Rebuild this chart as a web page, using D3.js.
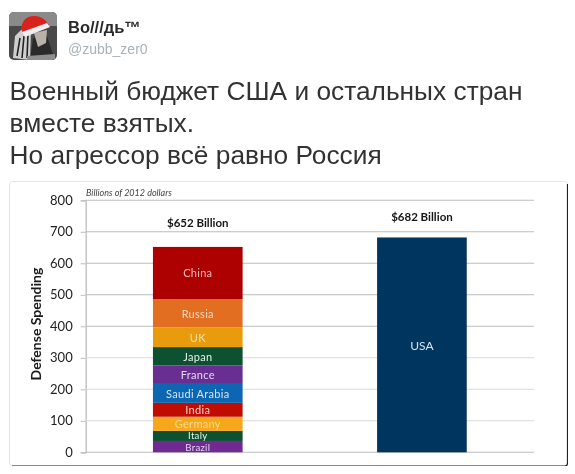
<!DOCTYPE html>
<html><head><meta charset="utf-8">
<script src="https://cdn.jsdelivr.net/npm/d3@7"></script>
<style>html,body{margin:0;padding:0;background:#fff}svg{display:block}</style></head>
<body><div id="c"></div>
<script>
const countries = ["Brazil","Italy","Germany","India","Saudi Arabia","France","Japan","UK","Russia","China"];
const spending = [36,32,45,44,60,59,58,63,89,166];
const colors = ["#6f2c91","#0b5130","#f6a81c","#c00a02","#0b66b2","#672d91","#0b5130","#e89c10","#e26e22","#ad0000"];
const textColors = ["#e3d3ef","#e6f2ea","#f6d98f","#f6cfcf","#d5e6f6","#e6d8f0","#e6f2ea","#f7dfb0","#f8d9c0","#f5b9b9"];
const barNames = ["Others","USA"];
const totals = ["$652 Billion","$682 Billion"];
const usaValue = [682];
const yTicks = [0,100,200,300,400,500,600,700,800];
const tweetLines = ["Военный бюджет США и остальных стран","вместе взятых.","Но агрессор всё равно Россия"];

const svg = d3.select("#c").append("svg").attr("width",575).attr("height",474);
const chartFont = "Lato, 'Open Sans', sans-serif";
const tw = "'Liberation Sans', Arial, sans-serif";

const defs = svg.append("defs");
defs.append("filter").attr("id","soft").attr("x",0).attr("y",0).attr("width","100%").attr("height","100%")
  .append("feGaussianBlur").attr("stdDeviation",0.35);
const page = svg.append("g").attr("filter","url(#soft)");

// header
defs.append("clipPath").attr("id","av").append("rect").attr("x",9).attr("y",12).attr("width",48).attr("height",48).attr("rx",5);
const av = page.append("g").attr("clip-path","url(#av)");
av.append("rect").attr("x",9).attr("y",12).attr("width",48).attr("height",48).attr("fill","#4a4a4a");
av.append("rect").attr("x",9).attr("y",12).attr("width",48).attr("height",14).attr("fill","#8a8a8a");
av.append("path").attr("d","M30 60 L33 38 L47 36 L55 60Z").attr("fill","#2b2b2b");
av.append("path").attr("d","M13 58 L15 36 L24 27 L31 30 L30 60Z").attr("fill","#cfcfcf");
av.append("path").attr("d","M17 56 L20 38 M22 58 L24 36 M27 58 L28 34").attr("stroke","#222").attr("stroke-width",1.6).attr("fill","none");
av.append("path").attr("d","M34 33 L47 30 L46 43 L38 47Z").attr("fill","#b9b2a8");
av.append("path").attr("d","M21 29 Q23 15 36 16 Q44 17 49 25 L23 33Z").attr("fill","#d9201f");
av.append("path").attr("d","M22 32 L47 23 L50 27 L25 37Z").attr("fill","#eeeeee");
av.append("path").attr("d","M27 56 L55 54 L55 60 L27 60Z").attr("fill","#8f8f8f");

page.append("text").attr("x",68).attr("y",33.3).attr("font-family",tw).attr("font-weight",700).attr("font-size",16.5).attr("fill","#2a2a2a").text("Во///дь™");
page.append("text").attr("x",68).attr("y",54.3).attr("font-family",tw).attr("font-size",14).attr("fill","#a9b2b9").text("@zubb_zer0");
page.append("g").selectAll("text").data(tweetLines).join("text")
  .attr("x",9.5).attr("y",(d,i)=>100.3+i*32)
  .attr("font-family",tw).attr("font-size",26.3).attr("fill","#333").text(d=>d);

// card
page.append("rect").attr("x",9.5).attr("y",181.5).attr("width",558).attr("height",284.5).attr("rx",3).attr("fill","#fff").attr("stroke","#e4e4e4");
page.append("path").attr("d","M12 466 L565 466 Q567.5 466 567.5 463 L567.5 184").attr("fill","none").attr("stroke","#222").attr("stroke-width",1.2);

// scales
const y = d3.scaleLinear().domain([0,800]).range([452.3,200.3]);
const x = d3.scaleBand().domain(barNames).range([85.7,534]).paddingInner(0.6).paddingOuter(0.3);

// axis and grid
const yAxis = d3.axisLeft(y).tickValues(yTicks).tickSize(5).tickFormat(d3.format("d"));
const gy = page.append("g").attr("transform","translate(85.7,0)").call(yAxis);
gy.select(".domain").attr("stroke","#bdbdbd").attr("stroke-width",1.3);
gy.selectAll(".tick line").attr("stroke","#bdbdbd").attr("x1",0).attr("x2",-5);
gy.selectAll(".tick text").attr("x",-13).attr("font-family",chartFont).attr("font-size",13).attr("fill","#222");
page.append("g").selectAll("line").data(yTicks).join("line")
  .attr("x1",85.7).attr("x2",534).attr("y1",d=>y(d)).attr("y2",d=>y(d))
  .attr("stroke",d=>d>=400||d===0?"#bcbcbc":"#d9d9d9").attr("stroke-width",1.1);

// stacked bar
const rows = countries.map((c,i)=>({c,v:spending[i],col:colors[i],tc:textColors[i]}));
let acc=0; rows.forEach(r=>{r.y0=acc;acc+=r.v;r.y1=acc;});
const bx = x("Others");
page.append("g").selectAll("rect").data(rows).join("rect")
  .attr("x",bx).attr("width",x.bandwidth()).attr("y",d=>y(d.y1)).attr("height",d=>y(d.y0)-y(d.y1)).attr("fill",d=>d.col);
page.append("g").selectAll("text").data(rows).join("text")
  .attr("x",bx+x.bandwidth()/2).attr("y",d=>(y(d.y0)+y(d.y1))/2+(d.v<40?3.3:4.4)+(d.c==="Brazil"?0.6:0))
  .attr("text-anchor","middle").attr("font-family",chartFont).attr("font-size",d=>d.v<40?9.6:11).attr("letter-spacing",0.3).attr("fill",d=>d.tc).text(d=>d.c);

// USA
page.append("g").selectAll("rect").data(usaValue).join("rect")
  .attr("x",x("USA")).attr("width",x.bandwidth()).attr("y",d=>y(d)).attr("height",d=>y(0)-y(d)).attr("fill","#03345f");
page.append("text").attr("x",x("USA")+x.bandwidth()/2).attr("y",y(340)+4.5).attr("text-anchor","middle")
  .attr("font-family",chartFont).attr("font-size",12).attr("fill","#d6e4ef").text("USA");

// totals
page.append("g").selectAll("text").data(totals).join("text")
  .attr("x",(d,i)=>x(barNames[i])+x.bandwidth()/2).attr("y",(d,i)=>i?y(682)-16:y(652)-19.5)
  .attr("text-anchor","middle").attr("font-family",chartFont).attr("font-weight",700).attr("font-size",11.5).attr("fill","#151515").text(d=>d);

// labels
page.append("text").attr("transform","translate(41,324) rotate(-90)").attr("text-anchor","middle")
  .attr("font-family",chartFont).attr("font-weight",700).attr("font-size",14).attr("fill","#1a1a1a").text("Defense Spending");
page.append("text").attr("x",86).attr("y",196).attr("font-family",chartFont).attr("font-style","italic").attr("font-size",9).attr("fill","#444").text("Billions of 2012 dollars");
</script></body></html>
